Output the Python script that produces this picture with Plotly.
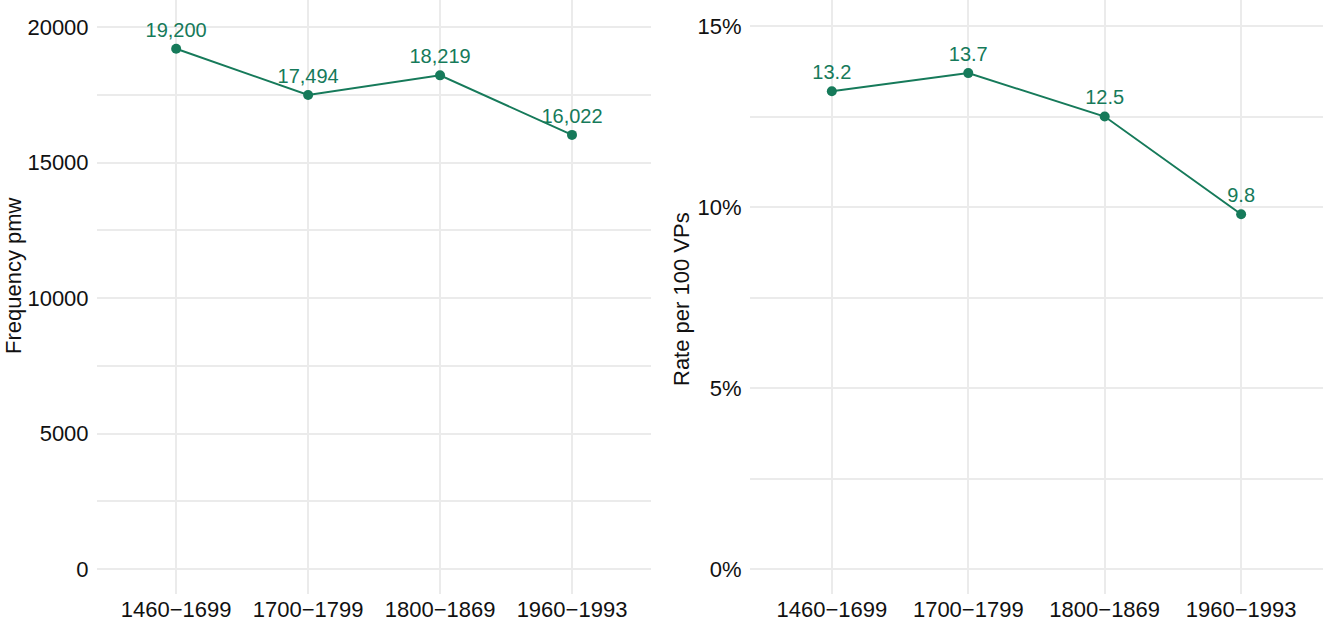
import plotly.graph_objects as go
from plotly.subplots import make_subplots

periods = ["1460\u22121699", "1700\u22121799", "1800\u22121869", "1960\u22121993"]
frequency_pmw = [19200, 17494, 18219, 16022]
rate_per_100 = [13.2, 13.7, 12.5, 9.8]

freq_labels = [f"{v:,}" for v in frequency_pmw]
rate_labels = [f"{v:.1f}" for v in rate_per_100]

green = "#167A5A"
grid = "#EBEBEB"
font = "Liberation Sans, Arial, sans-serif"

fig = make_subplots(rows=1, cols=2)

fig.add_trace(go.Scatter(x=periods, y=frequency_pmw, mode="lines+markers+text",
                         text=freq_labels, textposition="top center",
                         textfont=dict(color=green, size=20, family=font),
                         line=dict(color=green, width=2),
                         marker=dict(color=green, size=10),
                         cliponaxis=False, showlegend=False), row=1, col=1)
fig.add_trace(go.Scatter(x=periods, y=rate_per_100, mode="lines+markers+text",
                         text=rate_labels, textposition="top center",
                         textfont=dict(color=green, size=20, family=font),
                         line=dict(color=green, width=2),
                         marker=dict(color=green, size=10),
                         cliponaxis=False, showlegend=False), row=1, col=2)

common_x = dict(range=[-0.6, 3.6], showgrid=True, gridcolor=grid, gridwidth=1.5,
                zeroline=False, showline=False, ticks="", automargin=False,
                tickfont=dict(size=22, color="#111111", family=font))
fig.update_xaxes(common_x, domain=[0, 0.452], row=1, col=1)
fig.update_xaxes(common_x, domain=[0.5326, 1], row=1, col=2)

common_y = dict(showgrid=True, gridcolor=grid, gridwidth=1.5, zeroline=False,
                showline=False, ticks="outside", ticklen=3, tickcolor="rgba(0,0,0,0)",
                automargin=False, tickfont=dict(size=22, color="#111111", family=font))
fig.update_yaxes(common_y, range=[-922, 21000], tickvals=[0, 5000, 10000, 15000, 20000],
                 ticktext=["0", "5000", "10000", "15000", "20000"],
                 minor=dict(tickvals=[2500, 7500, 12500, 17500], showgrid=True,
                            gridcolor=grid, gridwidth=1.5, ticks=""),
                 row=1, col=1)
fig.update_yaxes(common_y, range=[-0.69, 15.72], tickvals=[0, 5, 10, 15],
                 ticktext=["0%", "5%", "10%", "15%"],
                 minor=dict(tickvals=[2.5, 7.5, 12.5], showgrid=True,
                            gridcolor=grid, gridwidth=1.5, ticks=""),
                 row=1, col=2)

fig.update_layout(
    width=1323, height=622,
    margin=dict(l=97, r=0, t=0, b=28),
    paper_bgcolor="white", plot_bgcolor="white",
    font=dict(family=font, size=22, color="#111111"),
    annotations=[
        dict(text="Frequency pmw", textangle=-90, xref="paper", yref="paper",
             x=(14 - 97) / 1226, y=(594 - 275) / 594, showarrow=False,
             xanchor="center", yanchor="middle", font=dict(size=22, family=font, color="#111111")),
        dict(text="Rate per 100 VPs", textangle=-90, xref="paper", yref="paper",
             x=(681 - 97) / 1226, y=(594 - 299) / 594, showarrow=False,
             xanchor="center", yanchor="middle", font=dict(size=22, family=font, color="#111111")),
    ],
)

# drop the browser's default body margin so the figure sits at the page corner
fig.write_html("out.html", config={"displayModeBar": False},
               post_script="document.body.style.margin='0px';")
